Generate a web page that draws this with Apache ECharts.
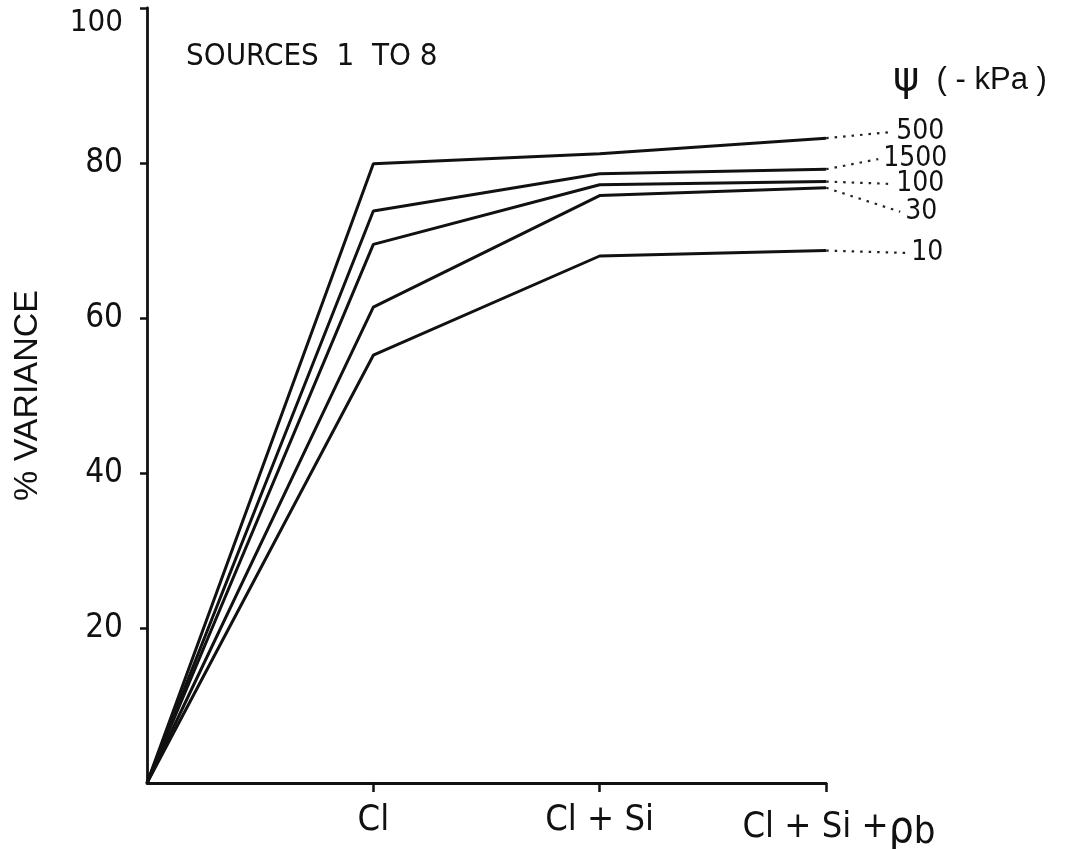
<!DOCTYPE html>
<html>
<head>
<meta charset="utf-8">
<script src="https://cdn.jsdelivr.net/npm/echarts@6/dist/echarts.min.js"></script>
<style>
  html, body { margin: 0; padding: 0; background: #fff; }
  #main { width: 1071px; height: 849px; }
</style>
</head>
<body>
<div id="main"></div>
<script>
// x categories (first one is the origin, no label)
var categories = ['', 'Cl', 'Cl + Si', 'Cl + Si +ρb'];

// % variance per soil water potential (-kPa)
var seriesNames = ['500', '1500', '100', '30', '10'];
var v500  = [0, 79.9, 81.2, 83.2];
var v1500 = [0, 73.8, 78.6, 79.2];
var v100  = [0, 69.5, 77.2, 77.6];
var v30   = [0, 61.4, 75.8, 76.8];
var v10   = [0, 55.2, 68.0, 68.7];
var allValues = [v500, v1500, v100, v30, v10];

// where the dotted leaders end (in data units of the overlay axis)
var labelAnchorX = [3.287, 3.23, 3.287, 3.327, 3.353];
var labelAnchorY = [84.0, 80.5, 77.3, 73.7, 68.4];

var yTicks = [0, 20, 40, 60, 80, 100];

var FONT = "'Liberation Sans Narrow', 'DejaVu Sans Condensed', sans-serif";

var myChart = echarts.init(document.getElementById('main'));

var series = [];
allValues.forEach(function (vals, i) {
    series.push({
        name: seriesNames[i],
        type: 'line',
        xAxisIndex: 0,
        yAxisIndex: 0,
        data: vals,
        symbol: 'none',
        lineStyle: { color: '#111', width: 3 },
        z: 3
    });
    // dotted leader + label
    series.push({
        type: 'line',
        xAxisIndex: 1,
        yAxisIndex: 1,
        data: [
            { value: [3, vals[3]], symbolSize: 0 },
            {
                value: [labelAnchorX[i], labelAnchorY[i]],
                label: {
                    show: true,
                    position: 'right',
                    distance: 5,
                    formatter: seriesNames[i],
                    fontFamily: FONT,
                    fontSize: 28,
                    color: '#111'
                }
            }
        ],
        symbol: 'circle',
        symbolSize: 0.1,
        itemStyle: { color: '#111' },
        lineStyle: { color: '#222', width: 2.2, type: [2.5, 6] },
        silent: true
    });
});

var option = {
    backgroundColor: '#fff',
    animation: false,
    title: [{
        text: 'SOURCES  1  TO 8',
        left: 181,
        top: 36,
        textStyle: { fontFamily: FONT, fontSize: 31, fontWeight: 'normal', color: '#111' }
    }, {
        text: '{p|ψ}  ( - kPa )',
        left: 888,
        top: 55,
        textStyle: {
            fontFamily: "'Liberation Sans', sans-serif", fontSize: 31, fontWeight: 'normal', color: '#111',
            rich: {
                p: { fontFamily: "'DejaVu Sans', sans-serif", fontSize: 40, color: '#111' }
            }
        }
    }],
    grid: [
        { left: 147, right: 245, top: 8, bottom: 66, outerBoundsMode: 'none' },
        { left: 147, right: 109, top: 8, bottom: 66, outerBoundsMode: 'none' }
    ],
    xAxis: [{
        type: 'category',
        gridIndex: 0,
        data: categories,
        boundaryGap: false,
        axisLine: { lineStyle: { color: '#111', width: 2.8 } },
        axisTick: {
            show: true,
            length: 9,
            interval: function (index) { return index > 0; },
            lineStyle: { color: '#111', width: 2.5 }
        },
        axisLabel: {
            interval: 0,
            hideOverlap: false,
            margin: 20,
            fontFamily: FONT,
            fontSize: 36,
            color: '#111',
            formatter: function (v) {
                if (v.indexOf('ρb') >= 0) return '{s|}Cl + Si +{r|ρ}{b|b}';
                return v;
            },
            rich: {
                s: { width: 26 },
                r: { fontFamily: FONT, fontSize: 44, color: '#111', padding: [6, 0, 0, 0] },
                b: { fontFamily: FONT, fontSize: 38, color: '#111', padding: [10, 0, 0, 0] }
            }
        },
        splitLine: { show: false }
    }, {
        type: 'value',
        gridIndex: 1,
        min: 0,
        max: 3.6,
        show: false
    }],
    yAxis: [{
        type: 'value',
        gridIndex: 0,
        min: yTicks[0],
        max: yTicks[yTicks.length - 1],
        interval: 20,
        name: '% VARIANCE',
        nameLocation: 'middle',
        nameGap: 102,
        nameRotate: 90,
        nameTextStyle: { fontFamily: "'Liberation Sans', sans-serif", fontSize: 34, color: '#111' },
        axisLine: { show: true, lineStyle: { color: '#111', width: 2.8 } },
        axisTick: { show: true, length: 7, lineStyle: { color: '#111', width: 2.5 } },
        axisLabel: {
            margin: 24,
            fontFamily: FONT,
            fontSize: 33,
            color: '#111',
            showMinLabel: false,
            formatter: function (v) { return v === 100 ? '{t|100}' : String(v); },
            rich: { t: { fontFamily: FONT, fontSize: 31, color: '#111', padding: [30, 0, 0, 0] } }
        },
        splitLine: { show: false }
    }, {
        type: 'value',
        gridIndex: 1,
        min: 0,
        max: 100,
        show: false
    }],
    series: series
};

myChart.setOption(option);
</script>
</body>
</html>
